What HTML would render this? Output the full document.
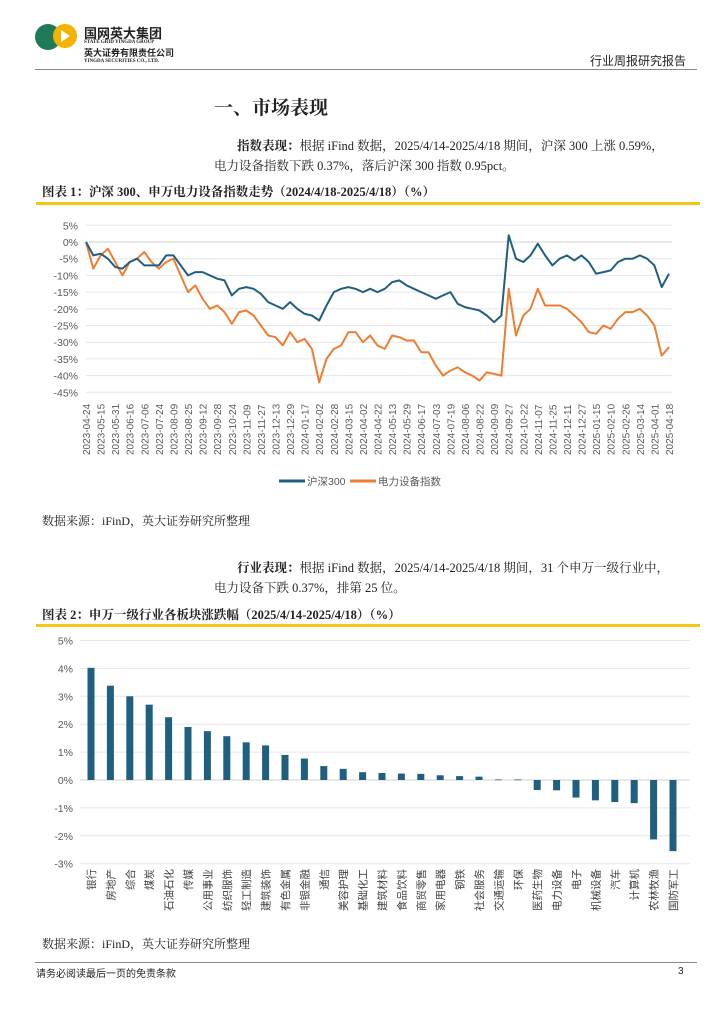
<!DOCTYPE html>
<html><head><meta charset="utf-8">
<style>
body{margin:0;width:724px;height:1024px;background:#fff;font-family:"Liberation Serif","Noto Serif CJK SC",serif;color:#222;position:relative;overflow:hidden}
.a{position:absolute;white-space:nowrap}
svg text{font-family:"Liberation Sans","Noto Sans CJK SC",sans-serif}
</style></head><body>
<svg class="a" style="left:34px;top:22px" width="44" height="30">
<circle cx="14" cy="15" r="13" fill="#1f7a5a"/><circle cx="31" cy="14" r="12" fill="#f2b400"/><path d="M27 8 L36 14 L27 20 Z" fill="#fff"/>
</svg>
<div class="a" style="left:84px;top:23px;font:bold 13px 'Noto Sans CJK SC',sans-serif">国网英大集团</div>
<div class="a" style="left:84px;top:40px;font:bold 5px 'Liberation Serif',serif">STATE GRID YINGDA GROUP</div>
<div class="a" style="left:84px;top:46px;font:bold 9px 'Noto Sans CJK SC',sans-serif">英大证券有限责任公司</div>
<div class="a" style="left:84px;top:59px;font:bold 5px 'Liberation Serif',serif">YINGDA SECURITIES CO., LTD.</div>
<div class="a" style="left:590px;top:52px;font:12px 'Noto Sans CJK SC',sans-serif">行业周报研究报告</div>
<div class="a" style="left:35px;top:69px;width:662px;height:1px;background:#888"></div>
<div class="a" style="left:214px;top:93px;font:bold 19px 'Noto Serif CJK SC',serif">一、市场表现</div>
<div class="a" style="left:237px;top:136px;font:12.5px 'Liberation Serif','Noto Serif CJK SC',serif"><b>指数表现：</b>根据 iFind 数据，2025/4/14-2025/4/18 期间，沪深 300 上涨 0.59%，</div>
<div class="a" style="left:214px;top:156px;font:12.5px 'Liberation Serif','Noto Serif CJK SC',serif">电力设备指数下跌 0.37%，落后沪深 300 指数 0.95pct。</div>
<div class="a" style="left:42px;top:182px;font:bold 12.5px 'Liberation Serif','Noto Serif CJK SC',serif">图表 1：沪深 300、申万电力设备指数走势（2024/4/18-2025/4/18）（%）</div>
<div class="a" style="left:36px;top:202px;width:664px;height:3px;background:#f5c518"></div>
<svg class="a" id="c1" style="left:0;top:215px" width="724" height="290"></svg>
<div class="a" style="left:42px;top:512px;font:12px 'Liberation Serif','Noto Serif CJK SC',serif">数据来源：iFinD，英大证券研究所整理</div>
<div class="a" style="left:237px;top:558px;font:12.5px 'Liberation Serif','Noto Serif CJK SC',serif"><b>行业表现：</b>根据 iFind 数据，2025/4/14-2025/4/18 期间，31 个申万一级行业中，</div>
<div class="a" style="left:214px;top:578px;font:12.5px 'Liberation Serif','Noto Serif CJK SC',serif">电力设备下跌 0.37%，排第 25 位。</div>
<div class="a" style="left:42px;top:605px;font:bold 12.5px 'Liberation Serif','Noto Serif CJK SC',serif">图表 2：申万一级行业各板块涨跌幅（2025/4/14-2025/4/18）（%）</div>
<div class="a" style="left:36px;top:624px;width:664px;height:3px;background:#f5c518"></div>
<svg class="a" id="c2" style="left:0;top:628px" width="724" height="305"></svg>
<div class="a" style="left:42px;top:935px;font:12px 'Liberation Serif','Noto Serif CJK SC',serif">数据来源：iFinD，英大证券研究所整理</div>
<div class="a" style="left:35px;top:962px;width:662px;height:1px;background:#888"></div>
<div class="a" style="left:36px;top:965px;font:10px 'Noto Sans CJK SC',sans-serif">请务必阅读最后一页的免责条款</div>
<div class="a" style="left:678px;top:966px;font:10px 'Liberation Sans',sans-serif">3</div>
<script>
const ns="http://www.w3.org/2000/svg";
function mk(p,t,a){const e=document.createElementNS(ns,t);for(const k in a)e.setAttribute(k,a[k]);p.appendChild(e);return e;}
// Chart 1 data
const dateLabels=["2023-04-24","2023-05-15","2023-05-31","2023-06-16","2023-07-06","2023-07-24","2023-08-09","2023-08-25","2023-09-12","2023-09-28","2023-10-24","2023-11-09","2023-11-27","2023-12-13","2023-12-29","2024-01-17","2024-02-02","2024-02-28","2024-03-15","2024-04-02","2024-04-22","2024-05-13","2024-05-29","2024-06-17","2024-07-03","2024-07-19","2024-08-06","2024-08-22","2024-09-09","2024-09-27","2024-10-22","2024-11-07","2024-11-25","2024-12-11","2024-12-27","2025-01-15","2025-02-10","2025-02-26","2025-03-14","2025-04-01","2025-04-18"];
const yTicks1=[5,0,-5,-10,-15,-20,-25,-30,-35,-40,-45];
const hs300=[0,-4,-3.5,-5,-7.5,-8,-6,-5,-7,-7,-7,-4,-4,-7,-10,-9,-9,-10,-11,-11.5,-16,-14,-13.5,-14,-15.5,-18,-19,-20,-18,-20,-21.5,-22,-23.5,-19,-15,-14,-13.5,-14,-15,-14,-15,-14,-12,-11.5,-13,-14,-15,-16,-17,-16,-15,-18.5,-19.5,-20,-20.5,-22,-24,-22,2,-5,-6,-4,-0.5,-4,-7,-5,-4,-5.5,-4,-6,-9.5,-9,-8.5,-6,-5,-5,-4,-5,-7,-13.5,-9.5];
const power=[0,-8,-4,-2,-6,-10,-6,-5,-3,-6,-8,-6,-5,-10,-15,-13,-17,-20,-19,-21,-24.5,-21,-20.5,-22,-25,-28,-28.5,-31,-27,-30,-29,-32,-42,-35,-32,-31,-27,-27,-30,-28,-31,-32,-28,-28.5,-29.5,-29.5,-33,-33,-37,-40,-38.5,-37.5,-39,-40,-41.5,-39,-39.5,-40,-14,-28,-22,-20,-14,-19,-19,-19,-20,-22,-24,-27,-27.5,-25,-26,-23,-21,-21,-20,-22,-25,-34,-31.5];
const c1=document.getElementById('c1');
const X0=86,X1=669,y1=v=>27-v*3.34;
yTicks1.forEach(t=>{
 const g=mk(c1,'line',{x1:X0,x2:672,y1:y1(t),y2:y1(t),stroke:t===0?'#d0d0d0':'#e6e6e6','stroke-width':1});
 
 const tx=mk(c1,'text',{x:78,y:y1(t)+4,'text-anchor':'end','font-size':10.5,fill:'#595959'});tx.textContent=t+'%';
 
});
const xl=k=>X0+k*(X1-X0)/(dateLabels.length-1);
dateLabels.forEach((d,k)=>{
 const tx=mk(c1,'text',{transform:`translate(${xl(k)+4},${240}) rotate(-90)`,'text-anchor':'start','font-size':10,fill:'#595959'});tx.textContent=d;
 
});
function line(arr,col,name){
 const n=arr.length;const pts=arr.map((v,i)=>(X0+i*(X1-X0)/(n-1)).toFixed(1)+','+y1(v).toFixed(1)).join(' ');
 const p=mk(c1,'polyline',{points:pts,fill:'none',stroke:col,'stroke-width':2,'stroke-linejoin':'round'});
 
}
line(power,'#ed7d31','power-equipment-line');line(hs300,'#1f5f7f','hs300-line');
const legItems=[['沪深300','#1f5f7f',279],['电力设备指数','#ed7d31',350]];
legItems.forEach(([t,c,x])=>{
 const l=mk(c1,'line',{x1:x,x2:x+26,y1:266,y2:266,stroke:c,'stroke-width':3});
 
 const tx=mk(c1,'text',{x:x+28,y:270,'font-size':10.5,fill:'#595959'});tx.textContent=t;
 
});
// Chart 2 data
const industries=["银行","房地产","综合","煤炭","石油石化","传媒","公用事业","纺织服饰","轻工制造","建筑装饰","有色金属","非银金融","通信","美容护理","基础化工","建筑材料","食品饮料","商贸零售","家用电器","钢铁","社会服务","交通运输","环保","医药生物","电力设备","电子","机械设备","汽车","计算机","农林牧渔","国防军工"];
const changes=[4.02,3.38,3.0,2.7,2.25,1.9,1.75,1.57,1.35,1.24,0.9,0.77,0.5,0.4,0.28,0.25,0.23,0.22,0.17,0.14,0.12,0.02,0.02,-0.36,-0.37,-0.63,-0.73,-0.79,-0.83,-2.13,-2.55];
const yTicks2=[5,4,3,2,1,0,-1,-2,-3];
const c2=document.getElementById('c2');
const y2=v=>152-v*27.9;
yTicks2.forEach(t=>{
 const g=mk(c2,'line',{x1:80,x2:690,y1:y2(t),y2:y2(t),stroke:t===0?'#d0d0d0':'#e6e6e6','stroke-width':1});
 
 const tx=mk(c2,'text',{x:73,y:y2(t)+4,'text-anchor':'end','font-size':10.5,fill:'#595959'});tx.textContent=t+'%';
 
});
const xb=i=>91+i*(673-91)/(industries.length-1);
changes.forEach((v,i)=>{
 const top=Math.min(y2(v),y2(0)),h=Math.abs(y2(v)-y2(0));
 const r=mk(c2,'rect',{x:xb(i)-3.5,y:top,width:7,height:Math.max(h,0.8),fill:'#1f5f7f'});
 
});
industries.forEach((n,i)=>{
 const tx=mk(c2,'text',{transform:`translate(${xb(i)+4},241) rotate(-90)`,'text-anchor':'end','font-size':10.5,fill:'#404040'});tx.textContent=n;
 
});
</script>
</body></html>
